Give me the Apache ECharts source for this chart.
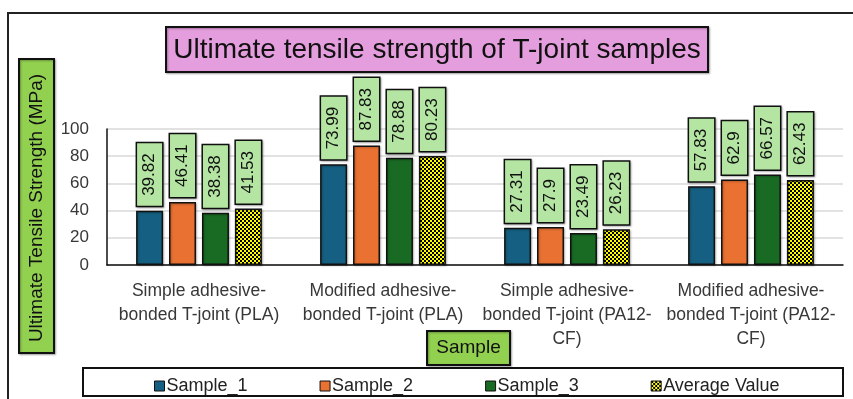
<!DOCTYPE html>
<html>
<head>
<meta charset="utf-8">
<script src="https://cdn.jsdelivr.net/npm/echarts@6/dist/echarts.min.js"></script>
<style>
  html, body { margin: 0; padding: 0; background: #fff; }
  #chart { width: 853px; height: 399px; }
</style>
</head>
<body>
<div id="chart"></div>
<script>
// Categories and measured values (MPa)
const categories = [
  'Simple adhesive-\nbonded T-joint (PLA)',
  'Modified adhesive-\nbonded T-joint (PLA)',
  'Simple adhesive-\nbonded T-joint (PA12-\nCF)',
  'Modified adhesive-\nbonded T-joint (PA12-\nCF)'
];
const sample1 = [39.82, 73.99, 27.31, 57.83];
const sample2 = [46.41, 87.83, 27.9, 62.9];
const sample3 = [38.38, 78.88, 23.49, 66.57];
const average = [41.53, 80.23, 26.23, 62.43];
const seriesNames = ['Sample_1', 'Sample_2', 'Sample_3', 'Average Value'];
const yTicks = [0, 20, 40, 60, 80, 100];

const SANS = '"Liberation Sans", Arial, sans-serif';

// Yellow/black checker fill for the average bars
function checker() {
  const c = document.createElement('canvas');
  c.width = 4; c.height = 4;
  const g = c.getContext('2d');
  g.fillStyle = '#ffff00'; g.fillRect(0, 0, 4, 4);
  g.fillStyle = '#000000';
  g.fillRect(0, 0, 2, 2);
  g.fillRect(2, 2, 2, 2);
  return c;
}

const fills = ['#156082', '#e97132', '#196b24', { image: checker(), repeat: 'repeat' }];
const values = [sample1, sample2, sample3, average];

const chart = echarts.init(document.getElementById('chart'), null, { renderer: 'canvas' });

const boxShadow = { shadowBlur: 2, shadowColor: 'rgba(0,0,0,0.3)', shadowOffsetX: 1, shadowOffsetY: 1 };

const series = values.map((v, i) => ({
  name: seriesNames[i],
  type: 'bar',
  data: v,
  barWidth: 27,
  barGap: '22%',
  itemStyle: Object.assign({
    color: fills[i],
    borderColor: '#111',
    borderWidth: 1.5
  }, boxShadow, { shadowColor: 'rgba(0,0,0,0.25)' }),
  label: Object.assign({
    show: true,
    position: 'top',
    distance: 5,
    rotate: 90,
    align: 'left',
    verticalAlign: 'middle',
    fontFamily: SANS,
    fontSize: 17,
    lineHeight: 17,
    color: '#111',
    backgroundColor: '#b4e5a2',
    borderColor: '#111',
    borderWidth: 1.5,
    padding: [4, 10, 4, 10]
  }, boxShadow),
  emphasis: { disabled: true }
}));

const option = {
  animation: false,
  backgroundColor: '#ffffff',
  grid: { left: 107, right: 10, top: 129, bottom: 134, containLabel: false },
  xAxis: {
    type: 'category',
    data: categories,
    axisLine: { lineStyle: { color: '#111', width: 1.5 } },
    axisTick: { show: false },
    axisLabel: {
      margin: 14,
      fontFamily: SANS,
      fontSize: 17.5,
      lineHeight: 24,
      color: '#383838',
      interval: 0
    }
  },
  yAxis: {
    type: 'value',
    min: yTicks[0],
    max: yTicks[yTicks.length - 1],
    interval: 20,
    axisLine: { show: true, lineStyle: { color: '#111', width: 1.5 } },
    axisTick: { show: false },
    splitLine: { lineStyle: { color: '#d9d9d9', width: 1.5 } },
    axisLabel: { margin: 18, fontFamily: SANS, fontSize: 17, color: '#383838' }
  },
  legend: {
    data: seriesNames,
    left: 149,
    top: 372,
    itemWidth: 10,
    itemHeight: 10,
    itemGap: 72,
    icon: 'rect',
    itemStyle: { borderColor: '#111', borderWidth: 1 },
    textStyle: { fontFamily: SANS, fontSize: 18, color: '#222', padding: [0, 0, 0, -3] }
  },
  graphic: [
    // outer frame
    { type: 'rect', shape: { x: 8, y: 13, width: 860, height: 400 }, style: { fill: 'none', stroke: '#222', lineWidth: 2 }, z: -1 },
    // legend frame
    { type: 'rect', shape: { x: 83, y: 368, width: 760, height: 28 }, style: { fill: 'none', stroke: '#111', lineWidth: 2 }, z: -1 },
    // chart title
    {
      type: 'group', left: 165, top: 26,
      children: [
        { type: 'rect', shape: { x: 0, y: 0, width: 542, height: 45 }, style: Object.assign({ fill: '#e59edd', stroke: '#111', lineWidth: 2 }, boxShadow) },
        { type: 'text', x: 271, y: 23, style: { text: 'Ultimate tensile strength of T-joint samples', fontFamily: SANS, fontSize: 28, fill: '#111', align: 'center', verticalAlign: 'middle' } }
      ]
    },
    // y-axis title
    {
      type: 'group', left: 18, top: 58,
      children: [
        { type: 'rect', shape: { x: 0, y: 0, width: 35, height: 294 }, style: Object.assign({ fill: '#92d050', stroke: '#111', lineWidth: 2 }, boxShadow) },
        { type: 'text', x: 18, y: 149, rotation: Math.PI / 2, style: { text: 'Ultimate Tensile Strength (MPa)', fontFamily: SANS, fontSize: 19, fill: '#111', align: 'center', verticalAlign: 'middle' } }
      ]
    },
    // x-axis title
    {
      type: 'group', left: 426, top: 330,
      children: [
        { type: 'rect', shape: { x: 0, y: 0, width: 83, height: 34 }, style: Object.assign({ fill: '#92d050', stroke: '#111', lineWidth: 2 }, boxShadow) },
        { type: 'text', x: 41.5, y: 17, style: { text: 'Sample', fontFamily: SANS, fontSize: 19, fill: '#111', align: 'center', verticalAlign: 'middle' } }
      ]
    }
  ],
  series: series
};

chart.setOption(option);
</script>
</body>
</html>
